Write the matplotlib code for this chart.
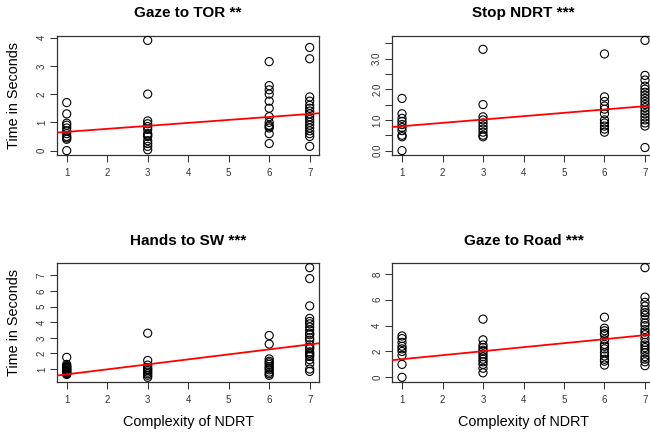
import matplotlib
matplotlib.use('Agg')
import matplotlib.pyplot as plt
import numpy as np

plt.rcParams['font.family'] = ['Liberation Sans', 'DejaVu Sans']

# ---------------- data ----------------
complexity_levels = [1, 3, 6, 7]
x_ticks = [1, 2, 3, 4, 5, 6, 7]

titles = ["Gaze to TOR **", "Stop NDRT ***", "Hands to SW ***", "Gaze to Road ***"]
y_label = "Time in Seconds"
x_label = "Complexity of NDRT"

# values per complexity level (1, 3, 6, 7)
gaze_tor = [
    [1.7, 1.3, 0.97, 0.9, 0.8, 0.7, 0.6, 0.5, 0.45, 0.4, 0.0],
    [3.9, 2.0, 1.05, 0.95, 0.85, 0.75, 0.6, 0.55, 0.5, 0.35, 0.25, 0.15, 0.03],
    [3.15, 2.3, 2.15, 2.0, 1.75, 1.5, 1.2, 1.0, 0.9, 0.85, 0.8, 0.6, 0.25],
    [3.65, 3.25, 1.9, 1.75, 1.6, 1.5, 1.4, 1.3, 1.2, 1.1, 1.0, 0.9, 0.8, 0.7,
     0.6, 0.5, 0.15],
]
stop_ndrt = [
    [1.7, 1.2, 1.05, 0.95, 0.85, 0.75, 0.65, 0.5, 0.45, 0.0],
    [3.3, 1.5, 1.1, 1.0, 0.9, 0.8, 0.7, 0.6, 0.5, 0.45],
    [3.15, 1.75, 1.6, 1.45, 1.35, 1.2, 1.0, 0.9, 0.8, 0.7, 0.6],
    [3.59, 2.45, 2.3, 2.1, 2.0, 1.9, 1.8, 1.7, 1.6, 1.5, 1.4, 1.3, 1.2, 1.1,
     1.0, 0.9, 0.8, 0.1],
]
hands_sw = [
    [1.75, 1.3, 1.2, 1.15, 1.1, 1.05, 1.0, 0.95, 0.9, 0.85, 0.8, 0.75, 0.7, 0.65],
    [3.3, 1.55, 1.25, 1.1, 1.0, 0.9, 0.8, 0.7, 0.6, 0.47],
    [3.15, 2.6, 1.65, 1.5, 1.4, 1.3, 1.15, 1.05, 0.95, 0.8, 0.7, 0.6],
    [7.5, 6.8, 5.05, 4.25, 4.05, 3.9, 3.7, 3.5, 3.3, 3.2, 3.0, 2.85, 2.55, 2.4,
     2.3, 2.1, 2.0, 1.9, 1.8, 1.6, 1.35, 1.0, 0.85],
]
gaze_road = [
    [3.2, 3.0, 2.7, 2.4, 2.2, 2.0, 1.7, 1.0, 0.0],
    [4.5, 2.9, 2.5, 2.3, 2.1, 2.0, 1.8, 1.6, 1.4, 1.2, 1.0, 0.7, 0.35],
    [4.65, 3.8, 3.6, 3.4, 3.3, 2.9, 2.55, 2.4, 2.2, 1.9, 1.65, 1.4, 1.25, 0.95],
    [8.48, 6.2, 5.8, 5.5, 5.2, 5.0, 4.8, 4.5, 4.2, 4.0, 3.7, 3.5, 3.3, 3.0,
     2.7, 2.5, 2.3, 2.1, 1.9, 1.6, 1.4, 1.2, 0.9],
]
panels_data = [gaze_tor, stop_ndrt, hands_sw, gaze_road]

# fitted regression lines (intercept, slope)
fit_intercepts = [0.558, 0.685, 0.34, 1.09]
fit_slopes = [0.1056, 0.109, 0.32, 0.31]

y_tick_values = [
    [0, 1, 2, 3, 4],
    [0.0, 0.5, 1.0, 1.5, 2.0, 2.5, 3.0, 3.5],
    [1, 2, 3, 4, 5, 6, 7],
    [0, 2, 4, 6, 8],
]
y_tick_labels = [
    ["0", "1", "2", "3", "4"],
    ["0.0", "", "1.0", "", "2.0", "", "3.0", ""],
    ["1", "2", "3", "4", "5", "6", "7"],
    ["0", "2", "4", "6", "8"],
]

# ---------------- layout ----------------
W, H = 650, 436
fig = plt.figure(figsize=(W / 100, H / 100), dpi=100)
fig.patch.set_facecolor('white')

def axes_px(left, top, width, height):
    return fig.add_axes([left / W, 1 - (top + height) / H, width / W, height / H])

boxes = [(57, 36, 262.4, 119), (392.3, 36, 262.4, 119),
         (57, 263.3, 262.4, 118.4), (392.3, 263.3, 262.4, 118.4)]
title_y = [13, 13, 240.7, 240.7]

frame_col = '#333333'
for i, (box, data) in enumerate(zip(boxes, panels_data)):
    ax = axes_px(*box)
    for xv, vals in zip(complexity_levels, data):
        ax.scatter(np.full(len(vals), xv), vals, s=34, facecolors='none',
                   edgecolors='black', linewidths=0.8, zorder=3, clip_on=False)
    ax.axline((0, fit_intercepts[i]), slope=fit_slopes[i], color='red', lw=1.3, zorder=4)

    allv = np.concatenate([np.asarray(v, float) for v in data])
    lo, hi = allv.min(), allv.max()
    pad = 0.04 * (hi - lo)
    ax.set_ylim(lo - pad, hi + pad)
    ax.set_xlim(1 - 0.04 * 6, 7 + 0.04 * 6)

    ax.set_xticks(x_ticks)
    ax.set_xticklabels([str(t) for t in x_ticks])
    ax.set_yticks(y_tick_values[i])
    ax.set_yticklabels(y_tick_labels[i], rotation=90, va='center')
    ax.tick_params(axis='both', length=5, width=0.75, color=frame_col,
                   labelsize=7, labelcolor='#333333')
    ax.tick_params(axis='x', pad=4.7)
    ax.tick_params(axis='y', pad=2.3)
    for sp in ax.spines.values():
        sp.set_color(frame_col)
        sp.set_linewidth(0.9)

    cx = box[0] + box[2] / 2
    fig.text(cx / W, 1 - title_y[i] / H, titles[i], ha='center', va='center',
             fontsize=11, fontweight='bold')
    if i in (0, 2):
        cy = box[1] + box[3] / 2
        fig.text(14 / W, 1 - cy / H, y_label, rotation=90, ha='center',
                 va='center', fontsize=10.4)
    if i in (2, 3):
        fig.text(cx / W, 1 - 422 / H, x_label, ha='center', va='center',
                 fontsize=10.4)

fig.savefig('out.png', dpi=100, facecolor='white')
